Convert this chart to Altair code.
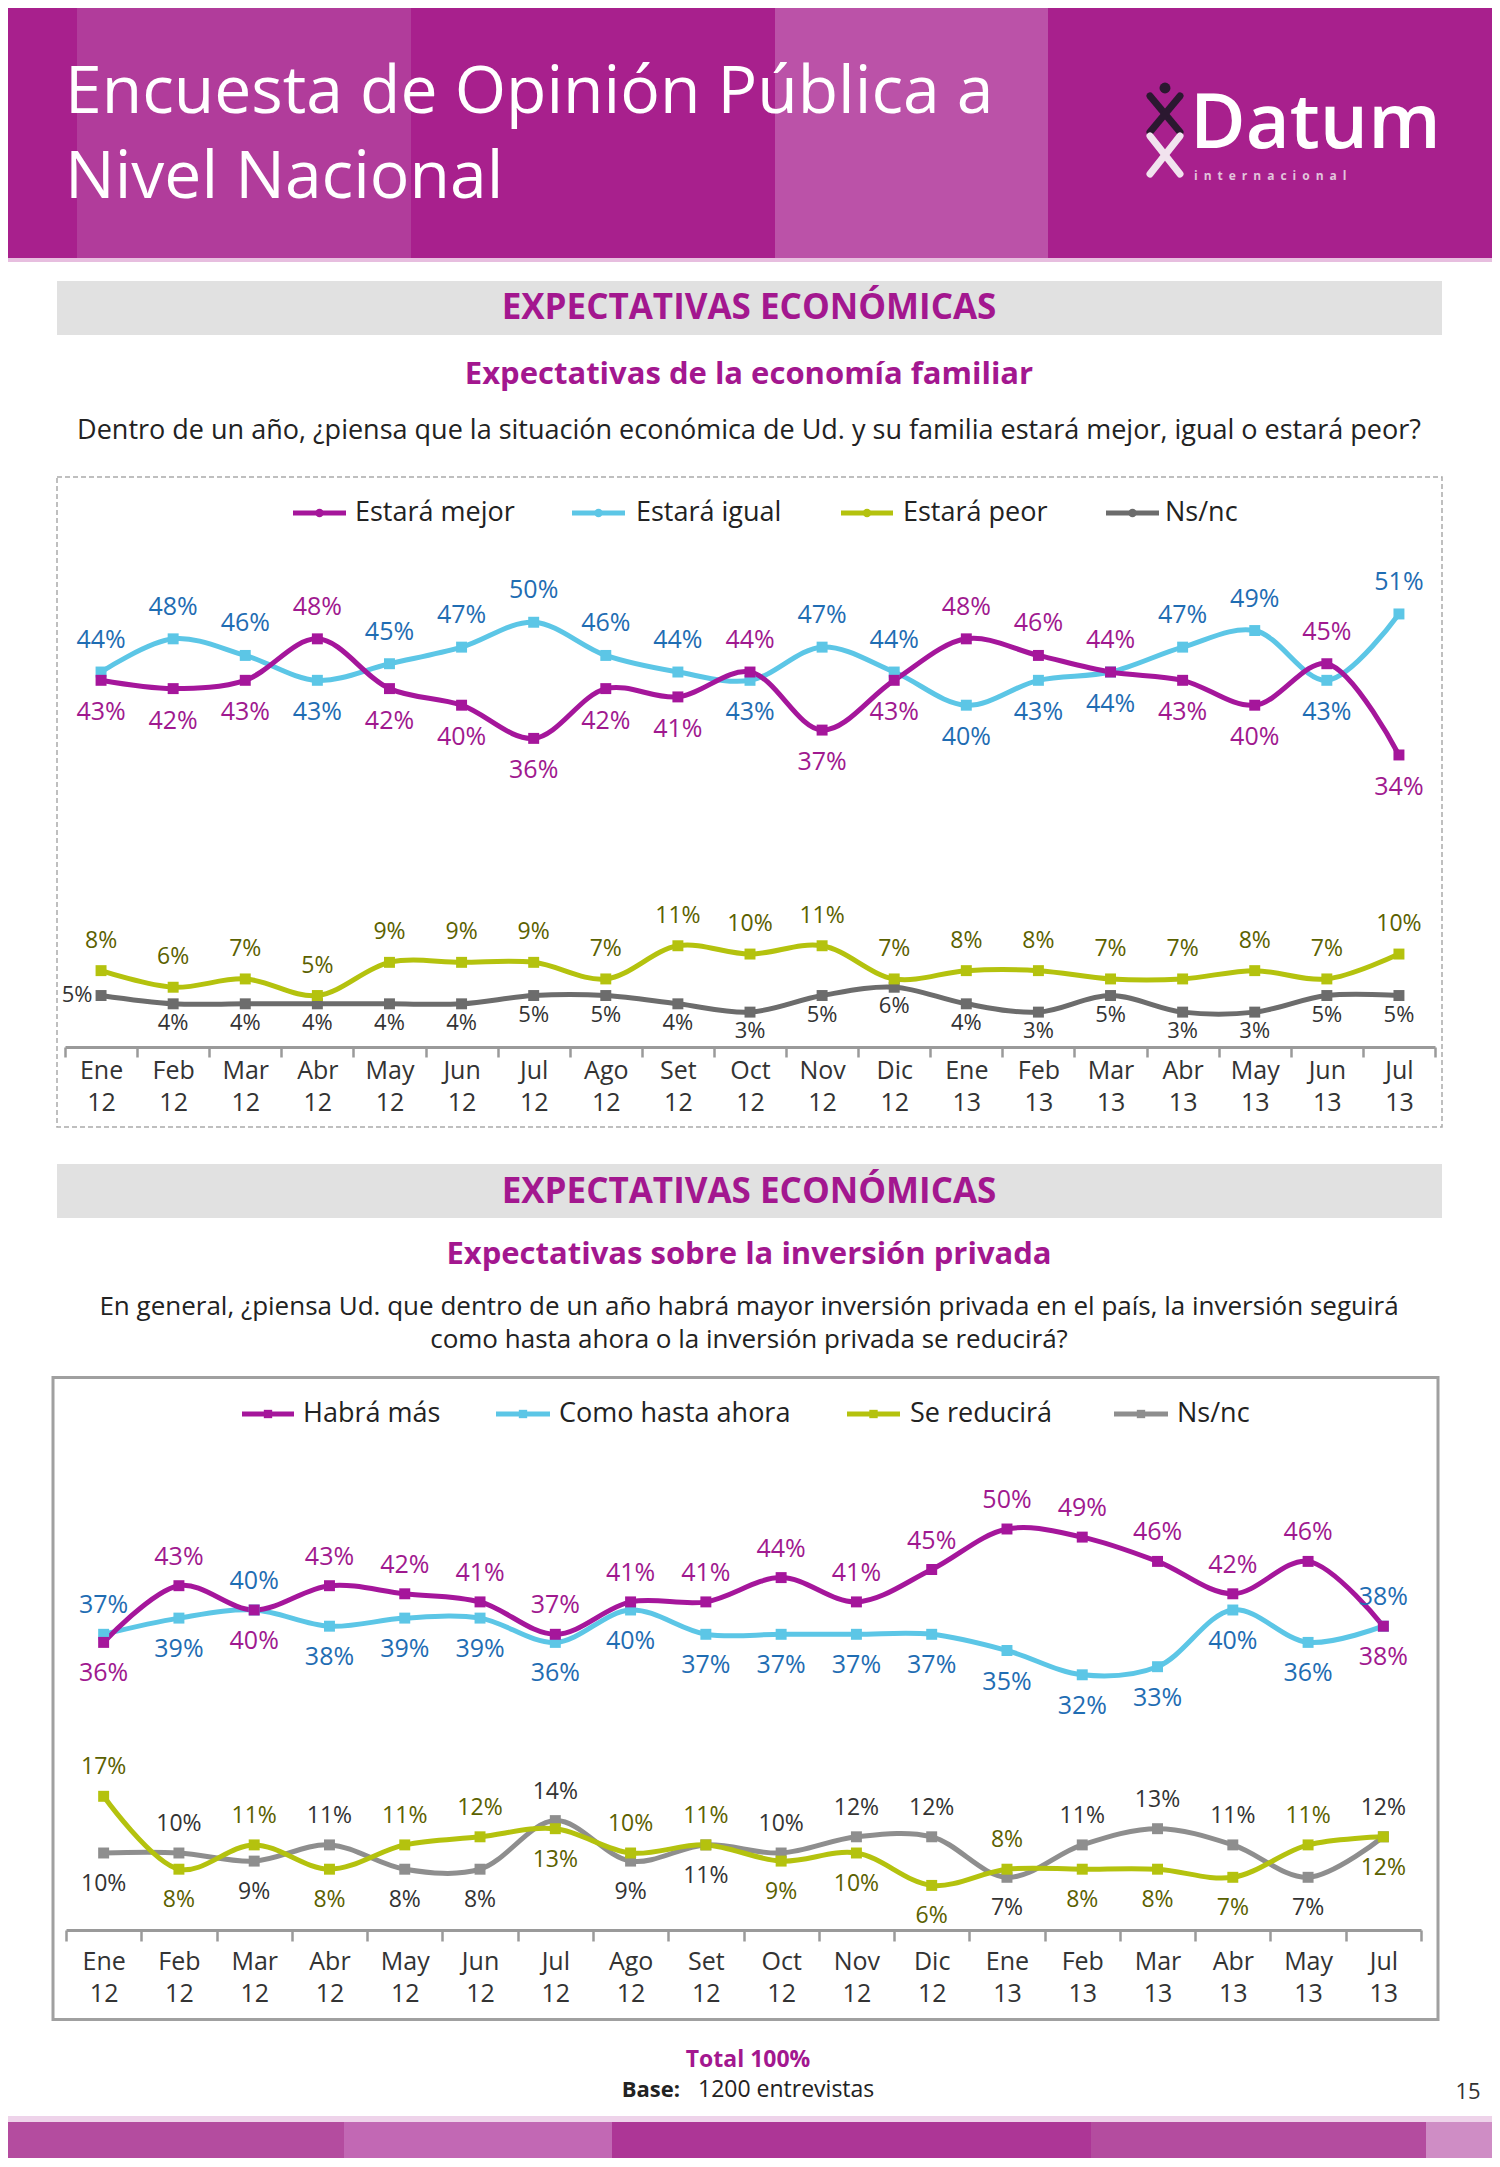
import altair as alt
import pandas as pd

FONT = "Open Sans"
W = 1484

# ---------------- data ----------------
meses1 = ["Ene 12", "Feb 12", "Mar 12", "Abr 12", "May 12", "Jun 12", "Jul 12", "Ago 12",
          "Set 12", "Oct 12", "Nov 12", "Dic 12", "Ene 13", "Feb 13", "Mar 13", "Abr 13",
          "May 13", "Jun 13", "Jul 13"]
mejor = [43, 42, 43, 48, 42, 40, 36, 42, 41, 44, 37, 43, 48, 46, 44, 43, 40, 45, 34]
igual = [44, 48, 46, 43, 45, 47, 50, 46, 44, 43, 47, 44, 40, 43, 44, 47, 49, 43, 51]
peor = [8, 6, 7, 5, 9, 9, 9, 7, 11, 10, 11, 7, 8, 8, 7, 7, 8, 7, 10]
nsnc1 = [5, 4, 4, 4, 4, 4, 5, 5, 4, 3, 5, 6, 4, 3, 5, 3, 3, 5, 5]

meses2 = ["Ene 12", "Feb 12", "Mar 12", "Abr 12", "May 12", "Jun 12", "Jul 12", "Ago 12",
          "Set 12", "Oct 12", "Nov 12", "Dic 12", "Ene 13", "Feb 13", "Mar 13", "Abr 13",
          "May 13", "Jul 13"]
habra = [36, 43, 40, 43, 42, 41, 37, 41, 41, 44, 41, 45, 50, 49, 46, 42, 46, 38]
como = [37, 39, 40, 38, 39, 39, 36, 40, 37, 37, 37, 37, 35, 32, 33, 40, 36, 38]
reduce = [17, 8, 11, 8, 11, 12, 13, 10, 11, 9, 10, 6, 8, 8, 8, 7, 11, 12]
nsnc2 = [10, 10, 9, 11, 8, 8, 14, 9, 11, 10, 12, 12, 7, 11, 13, 11, 7, 12]

series1 = ["Estará mejor", "Estará igual", "Estará peor", "Ns/nc"]
series2 = ["Habrá más", "Como hasta ahora", "Se reducirá", "Ns/nc"]

# ---------------- colours ----------------
MAG = "#A5169B"
MAG_T = "#A0198F"
CYAN = "#5CC6E6"
BLUE_T = "#1F6DB3"
OLIVE = "#B4C20E"
OLIVE_T = "#5B6100"
GRAY1 = "#6C6C6C"
GRAY2 = "#8E8E8E"
DARK_T = "#333333"
HEAD = "#A3178F"


def pair_pos(a, b, meses, tie_default, tie_special):
    pa, pb = [], []
    for m, va, vb in zip(meses, a, b):
        t = tie_special.get(m, tie_default)
        if va > vb or (va == vb and t == "a"):
            pa.append("above"); pb.append("below")
        else:
            pa.append("below"); pb.append("above")
    return pa, pb


def make_df(meses, names, values, poss):
    rows = []
    for n, vals, ps in zip(names, values, poss):
        for m, v, p in zip(meses, vals, ps):
            rows.append({"mes": m, "serie": n, "valor": v, "pos": p})
    return pd.DataFrame(rows)


p_mej, p_igu = pair_pos(mejor, igual, meses1, "a", {})
p_peo, p_ns1 = pair_pos(peor, nsnc1, meses1, "a", {})
p_ns1[0] = "left"
df1 = make_df(meses1, series1, [mejor, igual, peor, nsnc1], [p_mej, p_igu, p_peo, p_ns1])

p_hab, p_com = pair_pos(habra, como, meses2, "b", {})
p_red, p_ns2 = pair_pos(reduce, nsnc2, meses2, "a", {"Jul 13": "b"})
df2 = make_df(meses2, series2, [habra, como, reduce, nsnc2], [p_hab, p_com, p_red, p_ns2])

one = pd.DataFrame({"k": [0]})


def rect(x1, x2, y1, y2, **kw):
    return alt.Chart(one).mark_rect(**kw).encode(
        x=alt.value(x1), x2=alt.value(x2), y=alt.value(y1), y2=alt.value(y2))


def text(s, x, y, **kw):
    args = dict(font=FONT, baseline="middle", align="center")
    args.update(kw)
    return alt.Chart(one).mark_text(text=s, **args).encode(x=alt.value(x), y=alt.value(y))


def rule(x1, y1, x2, y2, **kw):
    return alt.Chart(one).mark_rule(**kw).encode(
        x=alt.value(x1), y=alt.value(y1), x2=alt.value(x2), y2=alt.value(y2))


# ---------------- cell A: header ----------------
HA = 468
headA = [
    rect(0, W, 0, 252, color="#A8208D"),
    rect(69, 403, 0, 252, color="#B13C9B"),
    rect(767, 1040, 0, 252, color="#BB52A8"),
    rect(0, W, 250, 254, color="#E7BEDF"),
    text("Encuesta de Opinión Pública a", 57, 105, fontSize=66, color="white",
         align="left", baseline="alphabetic"),
    text("Nivel Nacional", 57, 190, fontSize=66, color="white",
         align="left", baseline="alphabetic"),
    text("Datum", 1182, 140, fontSize=76, color="white", fontWeight=600,
         align="left", baseline="alphabetic"),
    text("\u2002".join("internacional"), 1186, 168, fontSize=12, color="#E2C4DC",
         fontWeight="bold", align="left"),
    # stylised figure of the logo
    rule(1142, 88, 1172, 124, color="#2B1830", strokeWidth=7, strokeCap="round"),
    rule(1172, 88, 1142, 124, color="#2B1830", strokeWidth=7, strokeCap="round"),
    alt.Chart(one).mark_point(shape="circle", filled=True, size=120, color="#2B1830",
                              opacity=1).encode(x=alt.value(1157), y=alt.value(80)),
    rule(1142, 128, 1172, 166, color="#F1E3EE", strokeWidth=7, strokeCap="round"),
    rule(1172, 128, 1142, 166, color="#F1E3EE", strokeWidth=7, strokeCap="round"),
    # section title
    rect(49, 1434, 273, 327, color="#E1E1E1"),
    text("EXPECTATIVAS ECONÓMICAS", 741, 300, fontSize=35, fontWeight="bold", color=HEAD),
    text("Expectativas de la economía familiar", 741, 367, fontSize=31, fontWeight="bold",
         color=HEAD),
    text("Dentro de un año, ¿piensa que la situación económica de Ud. y su familia estará mejor, "
         "igual o estará peor?", 741, 423, fontSize=27, color="#222222"),
]
cellA = alt.layer(*headA).properties(width=W, height=HA)


# ---------------- chart builder ----------------
def chart_cell(df, meses, names, styles, xrange, ydomain, yrange, height, axis_y,
               lab_pad, tick, legend, box, label_off):
    axis = alt.Axis(title=None, labelExpr="split(datum.label, ' ')", labelFontSize=25,
                    labelFont=FONT, labelColor="#333333", labelLineHeight=32,
                    labelPadding=lab_pad, tickSize=tick, tickColor="#9A9A9A", tickWidth=2.5,
                    domainColor="#9A9A9A", domainWidth=3, tickBand="extent",
                    offset=axis_y - height, labelAngle=0, grid=False, labelBaseline="top")
    X = alt.X("mes:N", sort=meses, title=None, bandPosition=0.5, axis=axis,
              scale=alt.Scale(type="band", domain=meses, range=xrange,
                              paddingInner=0, paddingOuter=0))
    Y = alt.Y("valor:Q", axis=None,
              scale=alt.Scale(domain=ydomain, range=yrange, nice=False, zero=False))
    layers = [box]
    lines, pts, labs = [], [], []
    for n in names:
        st = styles[n]
        d = df[df.serie == n]
        b = alt.Chart(d).encode(x=X, y=Y)
        lines.append(b.mark_line(interpolate="catmull-rom", strokeWidth=5, color=st["line"]))
        pts.append(b.mark_point(shape="square", filled=True, size=120, color=st["line"],
                                opacity=1))
        for pos in ["above", "below", "left"]:
            dd = d[d.pos == pos]
            if len(dd) == 0:
                continue
            dx, dy = label_off[st["grp"]][pos]
            labs.append(alt.Chart(dd).transform_calculate(lbl="datum.valor + '%'")
                        .mark_text(font=FONT, fontSize=st["fs"], color=st["text"], dx=dx, dy=dy,
                                   baseline="middle", align="center")
                        .encode(x=X, y=Y, text="lbl:N"))
    layers += lines[::-1] + pts[::-1] + labs
    ly, items, shape = legend
    for n, (x1, x2, tx) in zip(names, items):
        c = styles[n]["line"]
        layers.append(rule(x1, ly, x2, ly, color=c, strokeWidth=5))
        layers.append(alt.Chart(one).mark_point(shape=shape, filled=True, size=70, color=c,
                                                opacity=1)
                      .encode(x=alt.value((x1 + x2) / 2), y=alt.value(ly)))
        layers.append(text(n, tx, ly, fontSize=27, color="#222222", align="left"))
    return alt.layer(*layers).properties(width=W, height=height)


styles1 = {
    "Estará mejor": dict(line=MAG, text=MAG_T, fs=25, grp="up"),
    "Estará igual": dict(line=CYAN, text=BLUE_T, fs=25, grp="up"),
    "Estará peor": dict(line=OLIVE, text=OLIVE_T, fs=23, grp="lowA"),
    "Ns/nc": dict(line=GRAY1, text=DARK_T, fs=22, grp="lowB"),
}
off1 = {
    "up": {"above": (0, -32), "below": (0, 32)},
    "lowA": {"above": (0, -30), "below": (0, 28)},
    "lowB": {"above": (0, -28), "below": (0, 19), "left": (-24, -1)},
}
HB = 674
box1 = rect(49, 1434, 1, 651, fill="white", fillOpacity=0, stroke="#AAAAAA", strokeWidth=1.5,
            strokeDash=[5, 3])
cellB = chart_cell(df1, meses1, series1, styles1, [57, 1427], [0, 60], [561, 63.3], HB, 571,
                   1, 10,
                   (37, [(285, 338, 347), (564, 617, 628), (833, 885, 895), (1098, 1151, 1157)],
                    "circle"),
                   box1, off1)

# ---------------- cell C: second section header ----------------
HC = 226
cellC = alt.layer(
    rect(49, 1434, 14, 68, color="#E1E1E1"),
    text("EXPECTATIVAS ECONÓMICAS", 741, 42, fontSize=35, fontWeight="bold", color=HEAD),
    text("Expectativas sobre la inversión privada", 741, 105, fontSize=31, fontWeight="bold",
         color=HEAD),
    text("En general, ¿piensa Ud. que dentro de un año habrá mayor inversión privada en el país, "
         "la inversión seguirá", 741, 157, fontSize=26, color="#222222"),
    text("como hasta ahora o la inversión privada se reducirá?", 741, 190, fontSize=26,
         color="#222222"),
).properties(width=W, height=HC)

styles2 = {
    "Habrá más": dict(line=MAG, text=MAG_T, fs=25, grp="up"),
    "Como hasta ahora": dict(line=CYAN, text=BLUE_T, fs=25, grp="up"),
    "Se reducirá": dict(line=OLIVE, text=OLIVE_T, fs=23, grp="low"),
    "Ns/nc": dict(line=GRAY2, text=DARK_T, fs=23, grp="low"),
}
off2 = {
    "up": {"above": (0, -29), "below": (0, 31)},
    "low": {"above": (0, -29), "below": (0, 31)},
}
HD = 654
box2 = rect(45, 1430, 1.5, 643.5, fill="white", fillOpacity=0, stroke="#A0A0A0",
            strokeWidth=3)
cellD = chart_cell(df2, meses2, series2, styles2, [58, 1413], [0, 50], [558, 153], HD, 554,
                   8, 11,
                   (38, [(234, 286, 295), (488, 542, 551), (839, 892, 902), (1106, 1160, 1169)],
                    "square"),
                   box2, off2)

# ---------------- cell E: footer ----------------
HE = 128
cellE = alt.layer(
    text("Total 100%", 740, 30, fontSize=23, fontWeight="bold", color=HEAD),
    text("Base:", 672, 60, fontSize=22, fontWeight="bold", color="#222222", align="right"),
    text("1200 entrevistas", 690, 60, fontSize=23, color="#222222", align="left"),
    text("15", 1460, 62, fontSize=22, color="#333333"),
    rect(0, W, 86, 92, color="#EED3EA"),
    rect(0, 336, 92, HE, color="#B44C9F"),
    rect(336, 604, 92, HE, color="#C268B4"),
    rect(604, 1083, 92, HE, color="#AD3696"),
    rect(1083, 1418, 92, HE, color="#B44C9F"),
    rect(1418, W, 92, HE, color="#CF8DC5"),
).properties(width=W, height=HE)

chart = alt.vconcat(cellA, cellB, cellC, cellD, cellE, spacing=0).properties(
    padding=0).configure_view(stroke=None)

chart.save("out.html", embed_options={"renderer": "svg", "actions": False})
